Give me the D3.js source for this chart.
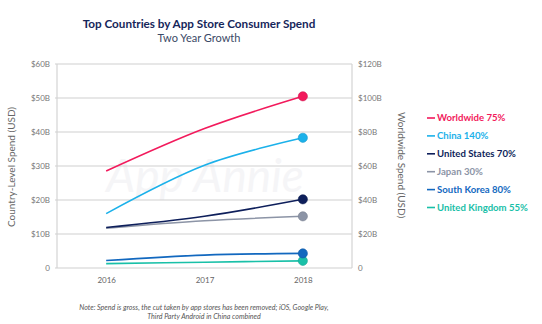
<!DOCTYPE html>
<html>
<head>
<meta charset="utf-8">
<script src="https://cdn.jsdelivr.net/npm/d3@7/dist/d3.min.js"></script>
<style>
  body { margin: 0; background: #fff; }
  svg text { font-family: Lato, "Liberation Sans", Arial, sans-serif; }
</style>
</head>
<body>
<div id="chart"></div>
<script>
// data
const years = ["2016", "2017", "2018"];
const worldwide = [57, 82, 101];       // right axis, $B
const china = [16.0, 30.2, 38.3];      // left axis, $B
const unitedStates = [11.9, 15.2, 20.2];
const japan = [11.7, 13.9, 15.2];
const southKorea = [2.2, 3.8, 4.3];
const unitedKingdom = [1.3, 1.7, 2.1];
const leftTicks = [0, 10, 20, 30, 40, 50, 60];
const rightTicks = [0, 20, 40, 60, 80, 100, 120];

const series = [
  {name: "Worldwide 75%", values: worldwide, color: "#f21a5c", axis: "right"},
  {name: "China 140%", values: china, color: "#1bb1ea", axis: "left"},
  {name: "United States 70%", values: unitedStates, color: "#0e1f5b", axis: "left"},
  {name: "Japan 30%", values: japan, color: "#8c94a6", axis: "left"},
  {name: "South Korea 80%", values: southKorea, color: "#1268bf", axis: "left"},
  {name: "United Kingdom 55%", values: unitedKingdom, color: "#19c0a8", axis: "left"}
];

const W = 542, H = 324;
const plot = {left: 57, right: 352, top: 64, bottom: 268};

const svg = d3.select("#chart").append("svg")
  .attr("width", W).attr("height", H);

const x = d3.scalePoint().domain(years).range([plot.left, plot.right]).padding(0.5);
const yL = d3.scaleLinear().domain([0, 60]).range([plot.bottom, plot.top]);
const yR = d3.scaleLinear().domain([0, 120]).range([plot.bottom, plot.top]);

// titles
svg.append("text").attr("x", 199).attr("y", 28).attr("text-anchor", "middle")
  .attr("font-size", 11.7).attr("font-weight", "bold").attr("fill", "#16265a")
  .text("Top Countries by App Store Consumer Spend");
svg.append("text").attr("x", 199).attr("y", 42).attr("text-anchor", "middle")
  .attr("font-size", 11).attr("fill", "#3b4966")
  .text("Two Year Growth");

// watermark
svg.append("text").attr("x", 205).attr("y", 192).attr("text-anchor", "middle")
  .attr("font-size", 46).attr("font-style", "italic").attr("fill", "#f5f5f7")
  .text("App Annie");

// gridlines
svg.append("g").selectAll("line").data(leftTicks).join("line")
  .attr("x1", plot.left - 2).attr("x2", plot.right)
  .attr("y1", d => yL(d)).attr("y2", d => yL(d))
  .attr("stroke", "#cfcfcf").attr("stroke-width", 1.2);

// axis lines
svg.append("line").attr("x1", plot.left).attr("x2", plot.left)
  .attr("y1", plot.top).attr("y2", plot.bottom).attr("stroke", "#d4d4d4").attr("stroke-width", 1.2);
svg.append("line").attr("x1", plot.right).attr("x2", plot.right)
  .attr("y1", plot.top).attr("y2", plot.bottom).attr("stroke", "#d4d4d4").attr("stroke-width", 1.2);

// left axis labels
const leftAxis = svg.append("g")
  .attr("transform", "translate(" + plot.left + ",0)")
  .call(d3.axisLeft(yL).tickValues(leftTicks).tickSize(0).tickPadding(7)
    .tickFormat(d => d === 0 ? "0" : "$" + d + "B"));
leftAxis.select(".domain").remove();
leftAxis.selectAll("text").attr("font-size", 8).attr("fill", "#777")
  .style("font-family", "Lato, 'Liberation Sans', Arial, sans-serif");

// right axis labels
const rightAxis = svg.append("g")
  .attr("transform", "translate(" + plot.right + ",0)")
  .call(d3.axisRight(yR).tickValues(rightTicks).tickSize(0).tickPadding(6)
    .tickFormat(d => d === 0 ? "0" : "$" + d + "B"));
rightAxis.select(".domain").remove();
rightAxis.selectAll("text").attr("font-size", 8).attr("fill", "#777")
  .style("font-family", "Lato, 'Liberation Sans', Arial, sans-serif");

// x axis labels
const xAxis = svg.append("g")
  .attr("transform", "translate(0," + plot.bottom + ")")
  .call(d3.axisBottom(x).tickSize(0).tickPadding(9));
xAxis.select(".domain").remove();
xAxis.selectAll("text").attr("font-size", 8).attr("fill", "#666")
  .style("font-family", "Lato, 'Liberation Sans', Arial, sans-serif");

// axis titles
svg.append("text")
  .attr("transform", "translate(15,167) rotate(-90)")
  .attr("text-anchor", "middle").attr("font-size", 10).attr("fill", "#666")
  .text("Country-Level Spend (USD)");
svg.append("text")
  .attr("transform", "translate(398,165) rotate(90)")
  .attr("text-anchor", "middle").attr("font-size", 10).attr("fill", "#666")
  .text("Worldwide Spend (USD)");

// lines
const lineFor = s => d3.line()
  .x((d, i) => x(years[i]))
  .y(d => (s.axis === "right" ? yR : yL)(d))
  .curve(d3.curveCatmullRom.alpha(0));

const drawOrder = series.slice().reverse();
drawOrder.forEach(s => {
  svg.append("path")
    .attr("d", lineFor(s)(s.values))
    .attr("fill", "none")
    .attr("stroke", s.color)
    .attr("stroke-width", 1.6);
});
drawOrder.forEach(s => {
  const last = s.values.length - 1;
  svg.append("circle")
    .attr("cx", x(years[last]))
    .attr("cy", (s.axis === "right" ? yR : yL)(s.values[last]))
    .attr("r", 4.6)
    .attr("fill", s.color)
    .attr("stroke", d3.color(s.color).darker(0.4))
    .attr("stroke-width", 0.6);
});

// legend
const legend = svg.append("g").attr("transform", "translate(427,118)");
series.forEach((s, i) => {
  const row = legend.append("g").attr("transform", "translate(0," + (i * 17.9) + ")");
  row.append("line").attr("x1", 0).attr("x2", 8).attr("y1", 0).attr("y2", 0)
    .attr("stroke", s.color).attr("stroke-width", 1.6);
  row.append("text").attr("x", 10).attr("y", 0).attr("dy", "0.35em")
    .attr("font-size", 9.6).attr("font-weight", "bold").attr("fill", s.color)
    .text(s.name);
});

// footnote
const note = svg.append("text").attr("text-anchor", "middle")
  .attr("font-size", 7.1).attr("font-style", "italic").attr("fill", "#555");
note.append("tspan").attr("x", 204).attr("y", 310)
  .text("Note: Spend is gross, the cut taken by app stores has been removed; iOS, Google Play,");
note.append("tspan").attr("x", 204).attr("y", 318.5)
  .text("Third Party Android in China combined");
</script>
</body>
</html>
